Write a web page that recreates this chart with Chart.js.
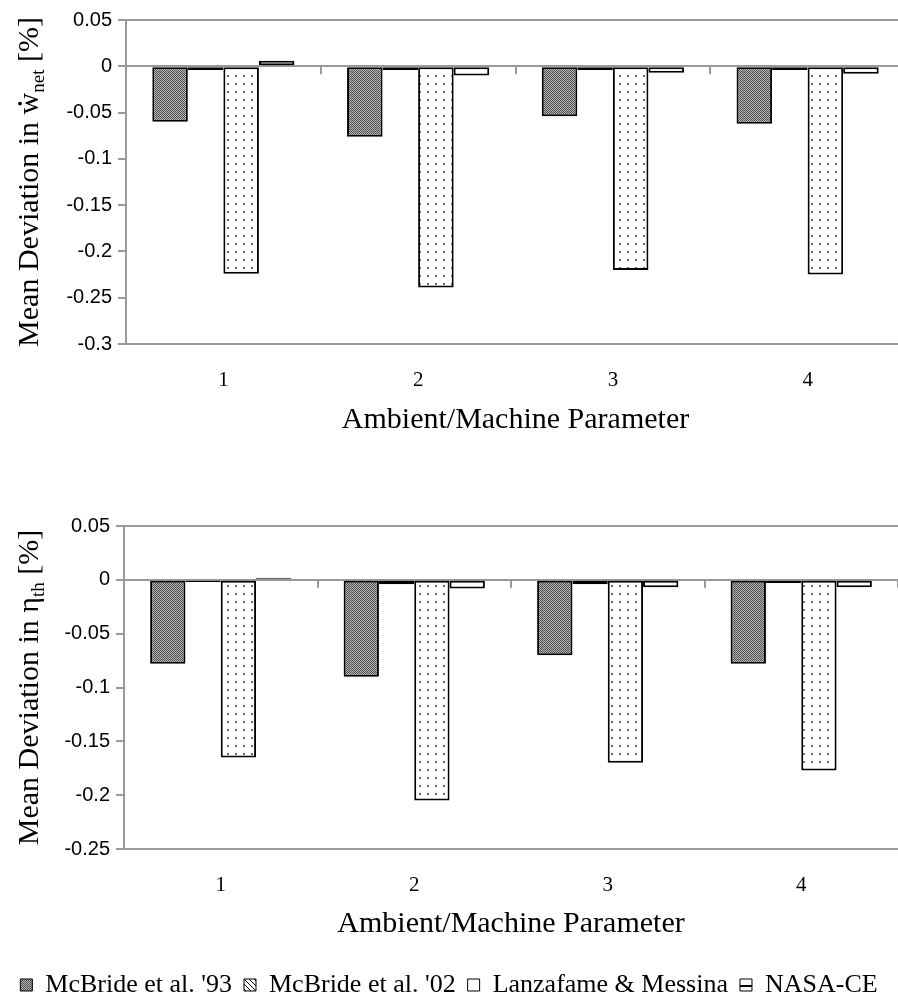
<!DOCTYPE html>
<html>
<head>
<meta charset="utf-8">
<script src="https://cdn.jsdelivr.net/npm/chart.js@4.4.1/dist/chart.umd.min.js"></script>
<style>
  html, body { margin: 0; padding: 0; background: #fff; overflow: hidden; width: 898px; height: 1008px; }
  #chartTop { position: absolute; left: 0; top: 0; }
  #chartBottom { position: absolute; left: 0; top: 470px; }
</style>
</head>
<body>
<canvas id="chartTop" width="912" height="455"></canvas>
<canvas id="chartBottom" width="898" height="538"></canvas>
<script>
const categories = ['1', '2', '3', '4'];
const seriesNames = ["McBride et al. '93", "McBride et al. '02", 'Lanzafame & Messina', 'NASA-CE'];

// top chart - mean deviation in net work [%]
const wnetMcBride93 = [-0.060, -0.076, -0.054, -0.062];
const wnetMcBride02 = [-0.004, -0.004, -0.004, -0.004];
const wnetLanzafame = [-0.224, -0.239, -0.220, -0.225];
const wnetNasa = [0.006, -0.010, -0.007, -0.008];
const wnetTicks = [0.05, 0, -0.05, -0.1, -0.15, -0.2, -0.25, -0.3];

// bottom chart - mean deviation in thermal efficiency [%]
const ethMcBride93 = [-0.078, -0.090, -0.070, -0.078];
const ethMcBride02 = [-0.002, -0.004, -0.004, -0.003];
const ethLanzafame = [-0.165, -0.205, -0.170, -0.177];
const ethNasa = [0.002, -0.008, -0.007, -0.007];
const ethTicks = [0.05, 0, -0.05, -0.1, -0.15, -0.2, -0.25];

const AXIS_GREY = '#999';
const SERIF = '"Liberation Serif", "Times New Roman", serif';
const SANS = '"Liberation Sans", Arial, sans-serif';

function makePatterns(ctx) {
    function tile(w, h, draw) {
        const c = document.createElement('canvas');
        c.width = w; c.height = h;
        const g = c.getContext('2d');
        g.fillStyle = '#fff';
        g.fillRect(0, 0, w, h);
        draw(g);
        return ctx.createPattern(c, 'repeat');
    }
    return {
        checker: tile(2, 2, g => {
            g.fillStyle = '#b4b4b4'; g.fillRect(0, 0, 2, 2);
            g.fillStyle = '#505050'; g.fillRect(0, 0, 1, 1); g.fillRect(1, 1, 1, 1);
        }),
        hatch: tile(5, 5, g => {
            g.strokeStyle = '#000'; g.lineWidth = 1;
            g.beginPath(); g.moveTo(0, 0); g.lineTo(5, 5); g.stroke();
        }),
        dots: tile(8, 8, g => {
            g.fillStyle = '#666'; g.fillRect(3, 3, 2, 2);
        }),
        stripe: tile(4, 10, g => {
            g.fillStyle = '#000'; g.fillRect(0, 5, 4, 2);
        })
    };
}

// y title with dotted base letter and subscript, drawn rotated
const yTitlePlugin = {
    id: 'yTitle',
    afterDraw(chart, args, opts) {
        const { ctx, chartArea } = chart;
        const big = '30px ' + SERIF, small = '19px ' + SERIF;
        ctx.save();
        ctx.font = big;
        const wHead = ctx.measureText(opts.head).width;
        const wBase = ctx.measureText(opts.base).width;
        const wTail = ctx.measureText(opts.tail).width;
        ctx.font = small;
        const wSub = ctx.measureText(opts.sub).width;
        const total = wHead + wBase + wSub + wTail;
        ctx.translate(opts.x, (chartArea.top + chartArea.bottom) / 2);
        ctx.rotate(-Math.PI / 2);
        ctx.fillStyle = '#000';
        ctx.textBaseline = 'alphabetic';
        ctx.textAlign = 'left';
        let x = -total / 2;
        ctx.font = big;
        ctx.fillText(opts.head, x, 0);
        x += wHead;
        ctx.fillText(opts.base, x, 0);
        if (opts.dot) {
            ctx.beginPath();
            ctx.arc(x + wBase / 2, -18, 1.9, 0, Math.PI * 2);
            ctx.fill();
        }
        x += wBase;
        ctx.font = small;
        ctx.fillText(opts.sub, x, 6);
        x += wSub;
        ctx.font = big;
        ctx.fillText(opts.tail, x, 0);
        ctx.restore();
    }
};

// little tick marks on the zero line at category boundaries
const zeroTickPlugin = {
    id: 'zeroTicks',
    beforeDatasetsDraw(chart) {
        const { ctx } = chart;
        const xs = chart.scales.x, ys = chart.scales.y;
        const y0 = ys.getPixelForValue(0);
        const n = categories.length;
        const step = (xs.right - xs.left) / n;
        ctx.save();
        ctx.strokeStyle = AXIS_GREY;
        ctx.lineWidth = 2;
        ctx.beginPath();
        for (let i = 1; i <= n; i++) {
            const px = Math.round(xs.left + i * step);
            ctx.moveTo(px, y0);
            ctx.lineTo(px, y0 + 8);
        }
        ctx.stroke();
        ctx.restore();
    }
};

function buildChart(canvasId, series, ticks, titleParts, layout) {
    const canvas = document.getElementById(canvasId);
    const ctx = canvas.getContext('2d');
    const pat = makePatterns(ctx);
    const fills = [pat.checker, '#fff', pat.dots, '#fff'];
    const legendFills = [pat.checker, pat.hatch, '#fff', pat.stripe];
    const yMax = Math.max(...ticks), yMin = Math.min(...ticks);

    const datasets = series.map((values, i) => ({
        label: seriesNames[i],
        data: values,
        backgroundColor: fills[i],
        borderColor: '#000',
        borderWidth: 2,
        borderSkipped: false,
        barPercentage: 1,
        categoryPercentage: 0.73
    }));

    return new Chart(ctx, {
        type: 'bar',
        data: { labels: categories, datasets: datasets },
        plugins: [zeroTickPlugin, yTitlePlugin],
        options: {
            responsive: false,
            animation: false,
            devicePixelRatio: 1,
            events: [],
            layout: { padding: layout.padding },
            scales: {
                x: {
                    grid: { display: true, color: 'rgba(0,0,0,0)', drawTicks: false, offset: true },
                    border: { color: AXIS_GREY, width: 2 },
                    ticks: { color: '#000', font: { family: SERIF, size: 21 }, padding: 24 },
                    title: {
                        display: true,
                        text: 'Ambient/Machine Parameter',
                        color: '#000',
                        font: { family: SERIF, size: 30 },
                        padding: { top: 0, bottom: layout.titleBottom }
                    },
                    afterFit: scale => { scale.height = layout.xHeight; }
                },
                y: {
                    min: yMin,
                    max: yMax,
                    afterBuildTicks: scale => { scale.ticks = ticks.map(v => ({ value: v })); },
                    afterFit: scale => { scale.width = layout.yWidth; },
                    grid: {
                        color: c => (Math.abs(c.tick.value) < 1e-9 || Math.abs(c.tick.value - yMax) < 1e-9) ? AXIS_GREY : 'rgba(0,0,0,0)',
                        lineWidth: 2,
                        tickColor: AXIS_GREY,
                        tickLength: 8
                    },
                    border: { color: AXIS_GREY, width: 2 },
                    ticks: {
                        color: '#000',
                        font: { family: SANS, size: 20 },
                        padding: 6,
                        callback: v => String(v)
                    }
                }
            },
            plugins: {
                tooltip: { enabled: false },
                legend: layout.legend ? {
                    display: true,
                    position: 'bottom',
                    labels: {
                        color: '#000',
                        font: { family: SERIF, size: 26 },
                        boxWidth: 12,
                        boxHeight: 12,
                        padding: 12,
                        generateLabels: chart => {
                            const items = Chart.defaults.plugins.legend.labels.generateLabels(chart);
                            items.forEach((it, i) => { it.fillStyle = legendFills[i]; it.lineWidth = 1; });
                            return items;
                        }
                    }
                } : { display: false },
                yTitle: titleParts
            }
        }
    });
}

buildChart('chartTop',
    [wnetMcBride93, wnetMcBride02, wnetLanzafame, wnetNasa],
    wnetTicks,
    { head: 'Mean Deviation in ', base: 'w', dot: true, sub: 'net', tail: ' [%]', x: 38 },
    { padding: { left: 0, top: 20, right: 7, bottom: 0 }, yWidth: 126, xHeight: 111, titleBottom: 17, legend: false });

buildChart('chartBottom',
    [ethMcBride93, ethMcBride02, ethLanzafame, ethNasa],
    ethTicks,
    { head: 'Mean Deviation in ', base: 'η', dot: false, sub: 'th', tail: ' [%]', x: 38 },
    { padding: { left: 0, top: 56, right: 0, bottom: 0 }, yWidth: 124, xHeight: 111, titleBottom: 18, legend: true });
</script>
</body>
</html>
